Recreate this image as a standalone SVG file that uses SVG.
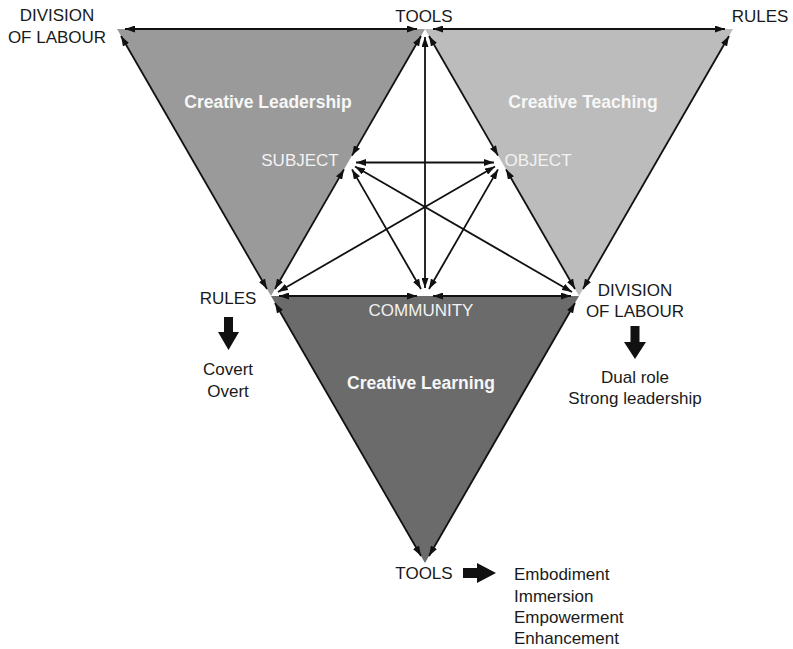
<svg xmlns="http://www.w3.org/2000/svg" width="793" height="649" viewBox="0 0 793 649">
<defs>
<marker id="ah" viewBox="0 0 10 7" refX="10" refY="3.5" markerWidth="10" markerHeight="7" markerUnits="userSpaceOnUse" orient="auto-start-reverse">
<path d="M0,0 L10,3.5 L0,7 z" fill="#111"/>
</marker>
<style>
.lbl{font-family:"Liberation Sans",Arial,sans-serif;font-size:17px;fill:#1a1a1a}
.in{font-family:"Liberation Sans",Arial,sans-serif;font-size:17px;fill:#f2f2f2}
.ttl{font-family:"Liberation Sans",Arial,sans-serif;font-size:17.5px;font-weight:bold;fill:#f7f7f7}
.c line{stroke:#111;stroke-width:1.8;marker-start:url(#ah);marker-end:url(#ah)}
.blk{fill:#111}
</style>
</defs>
<rect width="793" height="649" fill="#fff"/>
<g id="leadership">
<polygon points="117,29 425,29 271,296" fill="#9a9a9a"/>
<text class="ttl" x="268" y="108" text-anchor="middle">Creative Leadership</text>
</g>
<g id="teaching">
<polygon points="425,29 733,29 579,296" fill="#bcbcbc"/>
<text class="ttl" x="583" y="108" text-anchor="middle">Creative Teaching</text>
</g>
<g id="learning">
<polygon points="271,296 579,296 425,563" fill="#6b6b6b"/>
<text class="ttl" x="421" y="389" text-anchor="middle">Creative Learning</text>
</g>
<g id="division-top">
<text class="lbl" x="57" y="21" text-anchor="middle">DIVISION</text>
<text class="lbl" x="57" y="43" text-anchor="middle">OF LABOUR</text>
</g>
<g id="tools-top"><text class="lbl" x="424" y="22" text-anchor="middle">TOOLS</text></g>
<g id="rules-top"><text class="lbl" x="760" y="22" text-anchor="middle">RULES</text></g>
<g id="subject"><text class="in" x="300" y="166" text-anchor="middle">SUBJECT</text></g>
<g id="object"><text class="in" x="538" y="166" text-anchor="middle">OBJECT</text></g>
<g id="community"><text class="in" x="421" y="316" text-anchor="middle">COMMUNITY</text></g>
<g id="rules-left">
<text class="lbl" x="228" y="304" text-anchor="middle">RULES</text>
<polygon class="blk" points="224,317 233,317 233,332 239,332 228.5,350 218,332 224,332"/>
<text class="lbl" x="228" y="375" text-anchor="middle">Covert</text>
<text class="lbl" x="228" y="397" text-anchor="middle">Overt</text>
</g>
<g id="division-right">
<text class="lbl" x="635" y="296" text-anchor="middle">DIVISION</text>
<text class="lbl" x="635" y="317" text-anchor="middle">OF LABOUR</text>
<polygon class="blk" points="630.5,326 639.5,326 639.5,342 646,342 635,359 624,342 630.5,342"/>
<text class="lbl" x="635" y="383" text-anchor="middle">Dual role</text>
<text class="lbl" x="635" y="404" text-anchor="middle">Strong leadership</text>
</g>
<g id="tools-bottom">
<text class="lbl" x="424" y="579" text-anchor="middle">TOOLS</text>
<polygon class="blk" points="463,568 477,568 477,563 496,573 477,583 477,578 463,578"/>
<text class="lbl" x="514" y="580">Embodiment</text>
<text class="lbl" x="514" y="602">Immersion</text>
<text class="lbl" x="514" y="623">Empowerment</text>
<text class="lbl" x="514" y="644">Enhancement</text>
</g>
<g id="connectors" class="c">
<line x1="125" y1="29" x2="417" y2="29"/>
<line x1="433" y1="29" x2="725" y2="29"/>
<line x1="121" y1="36" x2="267" y2="289"/>
<line x1="421" y1="36" x2="352" y2="155.6"/>
<line x1="344" y1="169.4" x2="275" y2="289"/>
<line x1="429" y1="36" x2="498" y2="155.6"/>
<line x1="506" y1="169.4" x2="575" y2="289"/>
<line x1="729" y1="36" x2="583" y2="289"/>
<line x1="279" y1="296" x2="417" y2="296"/>
<line x1="433" y1="296" x2="571" y2="296"/>
<line x1="275" y1="303" x2="421" y2="556"/>
<line x1="575" y1="303" x2="429" y2="556"/>
<line x1="425" y1="37" x2="425" y2="288"/>
<line x1="356" y1="162.5" x2="494" y2="162.5"/>
<line x1="352" y1="169.4" x2="421" y2="289"/>
<line x1="498" y1="169.4" x2="429" y2="289"/>
<line x1="355" y1="166.5" x2="572" y2="292"/>
<line x1="495" y1="166.5" x2="278" y2="292"/>
</g>
</svg>
